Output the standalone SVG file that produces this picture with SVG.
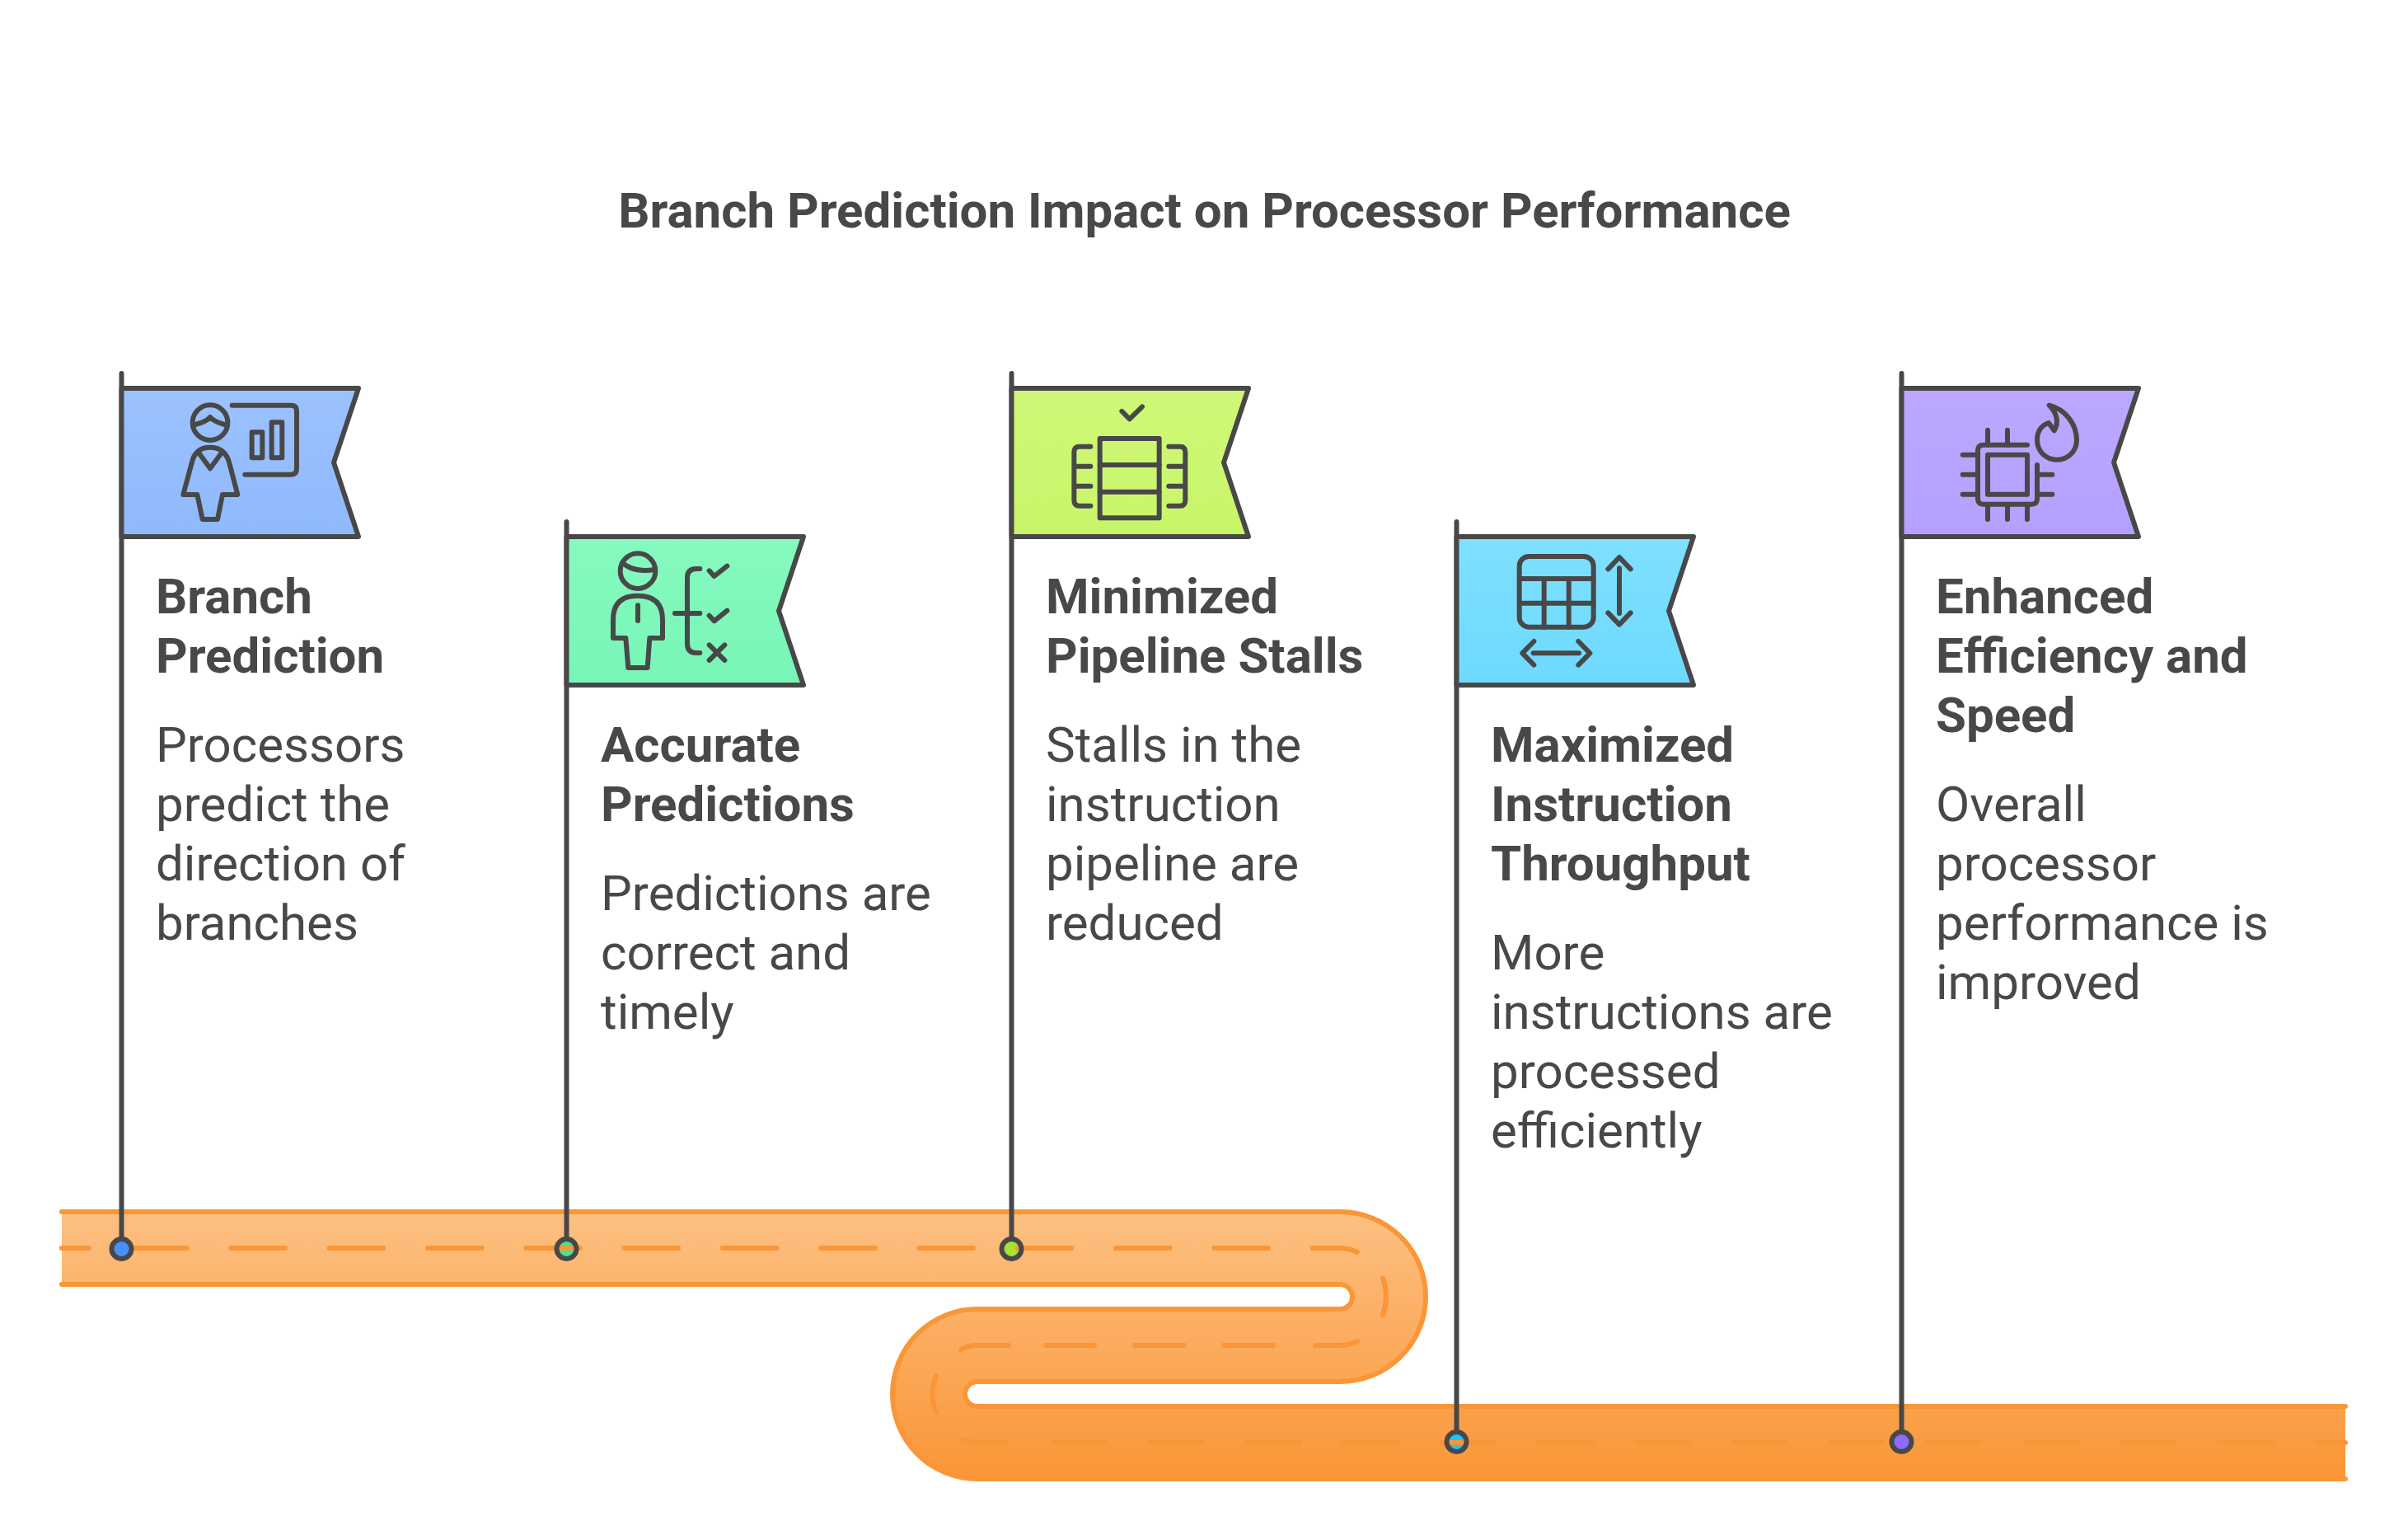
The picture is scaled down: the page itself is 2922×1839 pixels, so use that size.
<svg xmlns="http://www.w3.org/2000/svg" width="2922" height="1839" viewBox="0 0 2922 1839">
<defs>
<linearGradient id="road" gradientUnits="userSpaceOnUse" x1="0" y1="1470" x2="0" y2="1794"><stop offset="0" stop-color="#fdc082"/><stop offset="1" stop-color="#fa9637"/></linearGradient>
<linearGradient id="g1" x1="0" y1="0" x2="0" y2="1"><stop offset="0" stop-color="#9cc2fe"/><stop offset="1" stop-color="#8fb9fe"/></linearGradient>
<linearGradient id="g2" x1="0" y1="0" x2="0" y2="1"><stop offset="0" stop-color="#86fabf"/><stop offset="1" stop-color="#78f5b7"/></linearGradient>
<linearGradient id="g3" x1="0" y1="0" x2="0" y2="1"><stop offset="0" stop-color="#d0f878"/><stop offset="1" stop-color="#c8f56a"/></linearGradient>
<linearGradient id="g4" x1="0" y1="0" x2="0" y2="1"><stop offset="0" stop-color="#7fe0ff"/><stop offset="1" stop-color="#6ddaff"/></linearGradient>
<linearGradient id="g5" x1="0" y1="0" x2="0" y2="1"><stop offset="0" stop-color="#bca8ff"/><stop offset="1" stop-color="#b5a0ff"/></linearGradient>
<path id="flag" d="M0 18H287.5L257.5 108L287.5 198H0Z"/>
</defs>
<style>
text{font-family:Roboto,"Liberation Sans",sans-serif;fill:#484848;font-size:60px}
.title{font-weight:700}
.head{font-weight:700}
.desc{font-weight:400}
.flag{stroke:#484848;stroke-width:6;stroke-linejoin:round}
.pole{stroke:#484848;stroke-width:6;stroke-linecap:round;fill:none}
.ring{fill:none;stroke:#484848;stroke-width:6}
.icon{fill:none;stroke:#484848;stroke-width:18;stroke-linecap:round;stroke-linejoin:round}
.edge{fill:none;stroke:#fa9637;stroke-width:6;stroke-linecap:round}
</style>
<rect width="2922" height="1839" fill="#ffffff"/>
<text class="title" x="1461.5" y="275.5" text-anchor="middle">Branch Prediction Impact on Processor Performance</text>
<g id="road-group">
<path d="M75 1470H1626A104 103 0 0 1 1626 1676H1186A15 15 0 0 0 1186 1706H2846V1794H1186A103 103 0 0 1 1186 1588H1626A15 15 0 0 0 1626 1558H75Z" fill="url(#road)"/>
<circle cx="147.5" cy="1515" r="12" fill="#4a8ffb"/>
<circle cx="687.5" cy="1515" r="12" fill="#45e290"/>
<circle cx="1227.5" cy="1515" r="12" fill="#a6e22f"/>
<circle cx="1767.5" cy="1749" r="12" fill="#1fc4f9"/>
<circle cx="2307.5" cy="1749" r="12" fill="#8b6cfb"/>
<path class="edge" d="M75 1470H1626A104 103 0 0 1 1626 1676H1186A15 15 0 0 0 1186 1706H2846M2846 1794H1186A103 103 0 0 1 1186 1588H1626A15 15 0 0 0 1626 1558H75"/>
<path class="edge" d="M75 1514H107.6M161 1514H226.5M280.3 1514H345.9M399.6 1514H465.2M518.9 1514H584.5M638.2 1514H703.8M757.5 1514H823.1M876.8 1514H942.4M996.1 1514H1061.7M1115.4 1514H1181M1234.7 1514H1300.3M1354 1514H1419.6M1473.3 1514H1538.9M1592.6 1514H1626Q1637 1514 1647 1519"/>
<path class="edge" d="M1678 1551Q1686 1573 1678 1595"/>
<path class="edge" d="M1596 1632H1626Q1637 1632 1647 1627M1485 1632H1545M1377 1632H1437M1269 1632H1328M1224 1632H1186Q1175 1632 1166 1637"/>
<path class="edge" d="M1136 1669Q1127 1691 1136 1713"/>
<path class="edge" d="M1168 1746Q1177 1750 1186 1750H1220M1277 1750H1341M1395 1750H1459M1513 1750H1577M1631 1750H1695M1749 1750H1813M1867 1750H1931M1985 1750H2049M2103 1750H2167M2221 1750H2285M2339 1750H2403M2457 1750H2521M2575 1750H2639M2693 1750H2757M2811 1750H2846"/>
</g>
<g id="node-1">
<path class="pole" d="M147.5 453V1500"/><circle class="ring" cx="147.5" cy="1515" r="12"/>
<use href="#flag" class="flag" x="147.5" y="453" fill="url(#g1)"/>
<g class="icon" transform="translate(130 440) scale(.3333)">
<circle cx="375" cy="218" r="64"/><path d="M322 225Q360 215 375 198Q390 215 428 225"/>
<path d="M277 480L308 365Q320 308 375 308Q430 308 445 365L475 480H420L402 570H347L328 480Z"/><path d="M335 330L375 385L415 330"/>
<path d="M455 155H670Q690 155 690 175V385Q690 407 670 407H502"/>
<rect x="527" y="253" width="38" height="93"/><rect x="599" y="217" width="38" height="129"/>
</g>
<text class="head" x="189" y="743.5">Branch</text><text class="head" x="189" y="815.5">Prediction</text>
<text class="desc" x="189" y="923.5">Processors</text><text class="desc" x="189" y="995.5">predict the</text><text class="desc" x="189" y="1067.5">direction of</text><text class="desc" x="189" y="1139.5">branches</text>
</g>
<g id="node-2">
<path class="pole" d="M687.5 633V1500"/><circle class="ring" cx="687.5" cy="1515" r="12"/>
<use href="#flag" class="flag" x="687.5" y="633" fill="url(#g2)"/>
<g class="icon" transform="translate(670 620) scale(.3333)">
<circle cx="312" cy="218" r="64"/><path d="M255 188Q300 225 372 213"/>
<path d="M222 462V395Q222 308 312 308Q402 308 402 395V462H355L347 570H277L268 462Z"/><path d="M312 343V399"/>
<path d="M538 210H525Q492 210 492 243V482Q492 516 525 516H538M447 372H538"/>
<path d="M572 217L590 237L637 200M572 380L590 400L637 362M572 543L628 487M572 487L628 543"/>
</g>
<text class="head" x="729" y="923.5">Accurate</text><text class="head" x="729" y="995.5">Predictions</text>
<text class="desc" x="729" y="1103.5">Predictions are</text><text class="desc" x="729" y="1175.5">correct and</text><text class="desc" x="729" y="1247.5">timely</text>
</g>
<g id="node-3">
<path class="pole" d="M1227.5 453V1500"/><circle class="ring" cx="1227.5" cy="1515" r="12"/>
<use href="#flag" class="flag" x="1227.5" y="453" fill="url(#g3)"/>
<g class="icon" transform="translate(1215 440) scale(.3333)">
<path d="M439 177L467 205L513 160"/><rect x="359" y="276" width="216" height="289"/><path d="M359 372H575M359 470H575"/>
<path d="M325 305H285Q265 305 265 325V500Q265 521 285 521H325M265 377H325M265 449H325"/>
<path d="M610 305H650Q670 305 670 325V500Q670 521 650 521H610M610 377H670M610 449H670"/>
</g>
<text class="head" x="1269" y="743.5">Minimized</text><text class="head" x="1269" y="815.5">Pipeline Stalls</text>
<text class="desc" x="1269" y="923.5">Stalls in the</text><text class="desc" x="1269" y="995.5">instruction</text><text class="desc" x="1269" y="1067.5">pipeline are</text><text class="desc" x="1269" y="1139.5">reduced</text>
</g>
<g id="node-4">
<path class="pole" d="M1767.5 633V1734"/><circle class="ring" cx="1767.5" cy="1749" r="12"/>
<use href="#flag" class="flag" x="1767.5" y="633" fill="url(#g4)"/>
<g class="icon" transform="translate(1760 620) scale(.3333)">
<rect x="251" y="165" width="270" height="257" rx="35"/><path d="M251 246H521M251 335H521M341 246V422M431 246V422"/>
<path d="M615 208V372M574 211L615 168L656 211M574 370L615 413L656 370"/>
<path d="M302 517H468M304 474L262 517L304 560M466 474L508 517L466 560"/>
</g>
<text class="head" x="1809" y="923.5">Maximized</text><text class="head" x="1809" y="995.5">Instruction</text><text class="head" x="1809" y="1067.5">Throughput</text>
<text class="desc" x="1809" y="1175.5">More</text><text class="desc" x="1809" y="1247.5">instructions are</text><text class="desc" x="1809" y="1319.5">processed</text><text class="desc" x="1809" y="1391.5">efficiently</text>
</g>
<g id="node-5">
<path class="pole" d="M2307.5 453V1734"/><circle class="ring" cx="2307.5" cy="1749" r="12"/>
<use href="#flag" class="flag" x="2307.5" y="453" fill="url(#g5)"/>
<g class="icon" transform="translate(2300 440) scale(.3333)">
<path d="M480 299H320Q300 299 300 319V495Q300 515 320 515H496Q516 515 516 495V372"/><rect x="336" y="335" width="144" height="144"/>
<path d="M336 245V299M408 245V299M336 515V570M408 515V570M480 515V570M245 335H300M245 407H300M245 479H300M516 407H571M516 479H571"/>
<path d="M560 155C620 170 660 225 660 282C660 322 628 353 588 353C548 353 516 322 516 282C516 250 532 228 558 219L578 247C595 220 590 185 560 155Z"/>
</g>
<text class="head" x="2349" y="743.5">Enhanced</text><text class="head" x="2349" y="815.5">Efficiency and</text><text class="head" x="2349" y="887.5">Speed</text>
<text class="desc" x="2349" y="995.5">Overall</text><text class="desc" x="2349" y="1067.5">processor</text><text class="desc" x="2349" y="1139.5">performance is</text><text class="desc" x="2349" y="1211.5">improved</text>
</g>
</svg>
